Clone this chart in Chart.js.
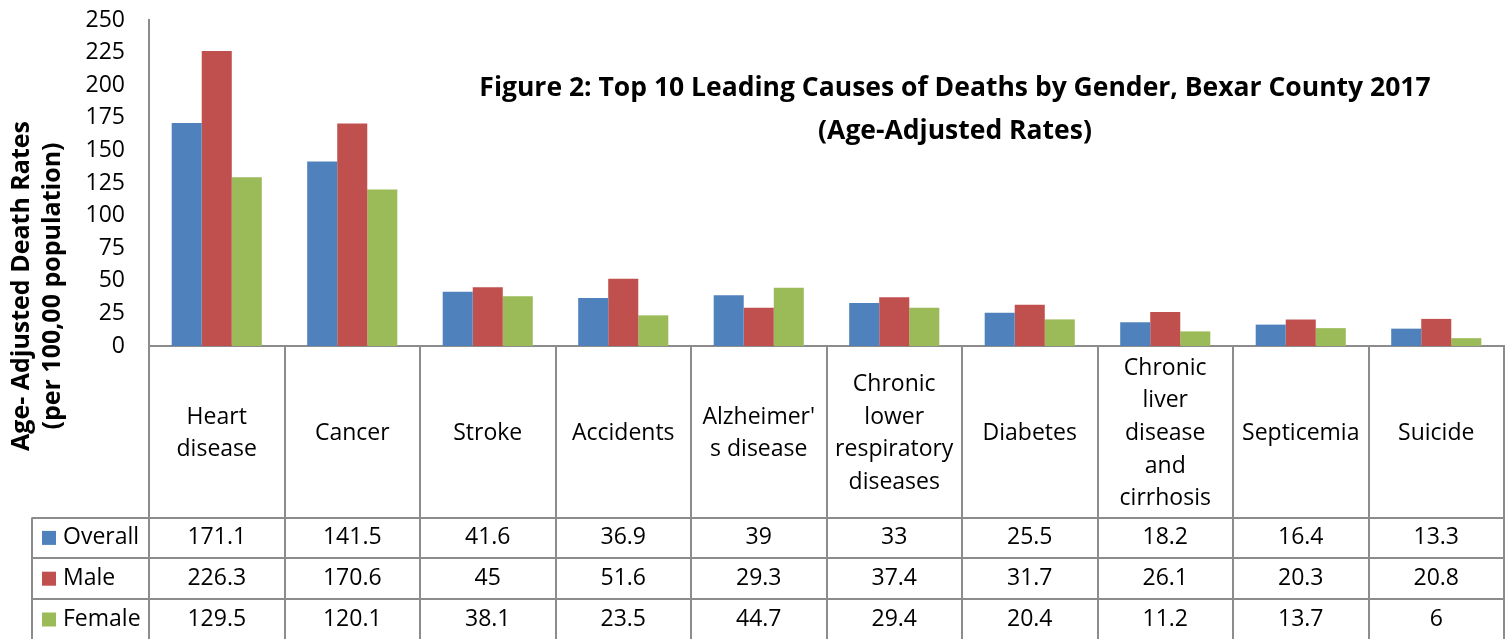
<!DOCTYPE html>
<html>
<head>
<meta charset="utf-8">
<script src="https://cdn.jsdelivr.net/npm/chart.js@4.4.0/dist/chart.umd.min.js"></script>
<style>
  html, body { margin: 0; padding: 0; background: #fff; }
  #wrap { width: 1510px; height: 639px; }
</style>
</head>
<body>
<div id="wrap"><canvas id="chart" width="1510" height="639"></canvas></div>
<script>
// Data
const categories = [
  ['Heart', 'disease'], 'Cancer', 'Stroke', 'Accidents', ["Alzheimer'", 's disease'],
  ['Chronic', 'lower', 'respiratory', 'diseases'], 'Diabetes',
  ['Chronic', 'liver', 'disease', 'and', 'cirrhosis'], 'Septicemia', 'Suicide'
];
const seriesNames = ['Overall', 'Male', 'Female'];
const overall = [171.1, 141.5, 41.6, 36.9, 39, 33, 25.5, 18.2, 16.4, 13.3];
const male = [226.3, 170.6, 45, 51.6, 29.3, 37.4, 31.7, 26.1, 20.3, 20.8];
const female = [129.5, 120.1, 38.1, 23.5, 44.7, 29.4, 20.4, 11.2, 13.7, 6];
const yMax = 250;
const yStep = 25;
const titleLines = ['Figure 2: Top 10 Leading Causes of Deaths by Gender, Bexar County 2017', '(Age-Adjusted Rates)'];
const yTitleLines = ['Age- Adjusted Death Rates', '(per 100,00 population)'];

const colors = ['#4F81BD', '#C0504D', '#9BBB59'];
const gridColor = '#8c8c8c';
const FONT = '"Open Sans", "DejaVu Sans", sans-serif';

// Excel-style title, rotated axis title and data table under the axis
const tablePlugin = {
  id: 'tablePlugin',
  afterDraw(chart) {
    const ctx = chart.ctx;
    const x = chart.scales.x;
    const area = chart.chartArea;
    const series = [overall, male, female];
    const catW = x.width / categories.length;
    const tableTop = x.bottom;
    const rowH = (chart.height - tableTop) / 3 + 0.3;
    const legendLeft = 32;

    ctx.save();
    // title
    ctx.fillStyle = '#000';
    ctx.textAlign = 'center';
    ctx.textBaseline = 'middle';
    ctx.font = 'bold 26.5px ' + FONT;
    ctx.fillText(titleLines[0], 955, 88);
    ctx.fillText(titleLines[1], 955, 131);

    // y axis title
    ctx.save();
    ctx.translate(22, 286);
    ctx.rotate(-Math.PI / 2);
    ctx.font = 'bold 25px ' + FONT;
    ctx.fillText(yTitleLines[0], 0, 0);
    ctx.fillText(yTitleLines[1], 0, 31);
    ctx.restore();

    // grid of the table
    ctx.strokeStyle = gridColor;
    ctx.lineWidth = 2;
    ctx.beginPath();
    for (let i = 0; i <= categories.length; i++) {
      const bx = Math.round(x.getPixelForValue(0) - catW / 2 + i * catW);
      ctx.moveTo(bx, area.bottom);
      ctx.lineTo(bx, chart.height);
    }
    for (let r = 0; r < 3; r++) {
      const ry = Math.round(tableTop + r * rowH);
      ctx.moveTo(legendLeft, ry);
      ctx.lineTo(area.right, ry);
    }
    ctx.moveTo(legendLeft, tableTop);
    ctx.lineTo(legendLeft, chart.height);
    ctx.stroke();

    // table text
    ctx.font = '23px ' + FONT;
    ctx.textBaseline = 'middle';
    series.forEach((vals, r) => {
      const cy = tableTop + r * rowH + rowH / 2;
      ctx.fillStyle = colors[r];
      ctx.fillRect(legendLeft + 10, cy - 7, 14, 14);
      ctx.fillStyle = '#000';
      ctx.textAlign = 'left';
      ctx.fillText(seriesNames[r], legendLeft + 31, cy);
      ctx.textAlign = 'center';
      vals.forEach((v, i) => {
        ctx.fillText(String(v), x.getPixelForValue(i), cy);
      });
    });
    ctx.restore();
  }
};

new Chart(document.getElementById('chart'), {
  type: 'bar',
  data: {
    labels: categories,
    datasets: [
      { label: seriesNames[0], data: overall, backgroundColor: colors[0] },
      { label: seriesNames[1], data: male, backgroundColor: colors[1] },
      { label: seriesNames[2], data: female, backgroundColor: colors[2] }
    ]
  },
  options: {
    responsive: false,
    animation: false,
    layout: { padding: { left: 0, top: 20, right: 6, bottom: 121.5 } },
    datasets: { bar: { categoryPercentage: 0.665, barPercentage: 1, borderWidth: 0 } },
    plugins: {
      legend: { display: false },
      tooltip: { enabled: false },
      title: { display: false }
    },
    scales: {
      x: {
        grid: { display: false, drawTicks: false },
        border: { display: true, color: gridColor, width: 2 },
        ticks: {
          color: '#000',
          font: { family: FONT, size: 23, lineHeight: 1.42 },
          maxRotation: 0,
          autoSkip: false,
          crossAlign: 'center',
          padding: 22
        },
        afterFit(scale) { scale.height = 171.5; }
      },
      y: {
        min: 0,
        max: yMax,
        grid: { display: false, drawTicks: false },
        border: { display: true, color: gridColor, width: 2 },
        ticks: {
          stepSize: yStep,
          color: '#000',
          font: { family: FONT, size: 23 },
          padding: 24
        },
        afterFit(scale) {
          scale.width = 149;
          scale.paddingTop = 0;
          scale.paddingBottom = 0;
        }
      }
    }
  },
  plugins: [tablePlugin]
});
</script>
</body>
</html>
